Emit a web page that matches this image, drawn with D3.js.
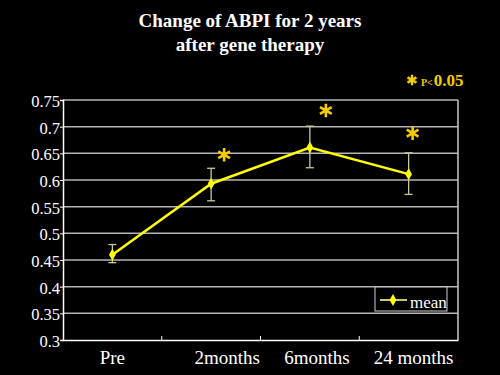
<!DOCTYPE html>
<html><head><meta charset="utf-8">
<script src="https://cdn.jsdelivr.net/npm/d3@7"></script>
<style>html,body{margin:0;padding:0;background:#000;}svg{display:block;}</style>
</head><body>
<script>
const categories = ["Pre", "2months", "6months", "24 months"];
const meanValues = [0.46, 0.593, 0.661, 0.611];
const errLow = [0.445, 0.561, 0.623, 0.573];
const errHigh = [0.479, 0.622, 0.701, 0.651];
const significant = [false, true, true, true];
const yTicks = [0.3, 0.35, 0.4, 0.45, 0.5, 0.55, 0.6, 0.65, 0.7, 0.75];
const titleLines = ["Change of ABPI for 2 years", "after gene therapy"];
const seriesName = "mean";

const W = 500, H = 375;
const m = {left: 63, right: 42, top: 100, bottom: 35};
const svg = d3.select("body").append("svg").attr("width", W).attr("height", H);
svg.append("rect").attr("width", W).attr("height", H).attr("fill", "#000");

const x = d3.scaleBand().domain(categories).range([m.left, W - m.right]);
const y = d3.scaleLinear().domain([0.3, 0.75]).range([H - m.bottom, m.top]);
const serif = "'Liberation Serif','Times New Roman',serif";

// title
svg.selectAll("text.title").data(titleLines).join("text")
  .attr("x", 250).attr("y", (d, i) => 27 + i * 24)
  .attr("text-anchor", "middle").attr("fill", "#fff")
  .attr("font-family", serif).attr("font-weight", "bold").attr("font-size", 19)
  .text(d => d);

// gridlines
svg.append("g").selectAll("line").data(yTicks.slice(1)).join("line")
  .attr("x1", m.left).attr("x2", W - m.right)
  .attr("y1", d => y(d)).attr("y2", d => y(d))
  .attr("stroke", "#b4b4b4").attr("stroke-width", 1.5);

// frame right
svg.append("line").attr("x1", W - m.right).attr("x2", W - m.right)
  .attr("y1", m.top).attr("y2", H - m.bottom).attr("stroke", "#c8c8c8").attr("stroke-width", 1.5);

// y axis
const yAxis = svg.append("g").attr("transform", `translate(${m.left},0)`)
  .call(d3.axisLeft(y).tickValues(yTicks).tickSize(3).tickFormat(d => String(d)));
yAxis.select(".domain").attr("stroke", "#fff").attr("stroke-width", 1.5);
yAxis.selectAll(".tick line").attr("stroke", "#fff");
yAxis.selectAll("text").attr("fill", "#fff").attr("font-family", serif).attr("font-size", 16.5).attr("x", -3).attr("dy", "0.4em");

// x axis
const xAxis = svg.append("g").attr("transform", `translate(0,${H - m.bottom})`)
  .call(d3.axisBottom(x).tickSize(0).tickSizeOuter(0));
xAxis.select(".domain").attr("stroke", "#fff").attr("stroke-width", 1.5);
xAxis.selectAll(".tick text").attr("fill", "#fff").attr("font-family", serif).attr("font-size", 19).attr("dy", "1.1em");
const labelShift = [0, 16, 7, 5];
xAxis.selectAll(".tick text").attr("dx", (d, i) => labelShift[i]);
// band separator ticks
svg.append("g").selectAll("line").data(categories.slice(1)).join("line")
  .attr("x1", d => x(d)).attr("x2", d => x(d))
  .attr("y1", H - m.bottom).attr("y2", H - m.bottom - 4)
  .attr("stroke", "#fff").attr("stroke-width", 1);

const cx = d => x(d) + x.bandwidth() / 2;

// error bars
const eb = svg.append("g").attr("stroke", "#c8c8a0").attr("stroke-width", 1.3);
categories.forEach((c, i) => {
  const xc = cx(c);
  eb.append("line").attr("x1", xc).attr("x2", xc).attr("y1", y(errLow[i])).attr("y2", y(errHigh[i]));
  eb.append("line").attr("x1", xc - 4).attr("x2", xc + 4).attr("y1", y(errLow[i])).attr("y2", y(errLow[i]));
  eb.append("line").attr("x1", xc - 4).attr("x2", xc + 4).attr("y1", y(errHigh[i])).attr("y2", y(errHigh[i]));
});

// line
const data = categories.map((c, i) => ({c, v: meanValues[i]}));
svg.append("path").datum(data)
  .attr("d", d3.line().x(d => cx(d.c)).y(d => y(d.v)))
  .attr("fill", "none").attr("stroke", "#ffff00").attr("stroke-width", 2.5);
svg.append("g").selectAll("path").data(data).join("path")
  .attr("transform", d => `translate(${cx(d.c)},${y(d.v)})`)
  .attr("d", d3.symbol(d3.symbolDiamond, 40)).attr("fill", "#ffff00");

// significance stars
const starDx = [0, 13, 16, 4];
const starDy = [0, -29, -37, -41];
const starColor = "#f5cc00";
svg.append("g").selectAll("path").data(data.filter((d, i) => significant[i]))
  .join("path")
  .attr("transform", d => {
    const i = categories.indexOf(d.c);
    return `translate(${cx(d.c) + starDx[i]},${y(d.v) + starDy[i]})`;
  })
  .attr("d", d3.symbol(d3.symbolAsterisk, 130))
  .attr("fill", "none").attr("stroke", starColor).attr("stroke-width", 2.6);

// p-value note
svg.append("path").attr("transform", "translate(412,80)")
  .attr("d", d3.symbol(d3.symbolAsterisk, 75)).attr("fill", "none")
  .attr("stroke", starColor).attr("stroke-width", 2.4);
const note = svg.append("text").attr("x", 421).attr("y", 86).attr("fill", starColor)
  .attr("font-family", serif).attr("font-weight", "bold");
note.append("tspan").attr("font-size", 10).text("P<");
note.append("tspan").attr("font-size", 17).attr("dx", 1).text("0.05");

// legend
const lg = svg.append("g");
lg.append("rect").attr("x", 375).attr("y", 287).attr("width", 72).attr("height", 24)
  .attr("fill", "#000").attr("stroke", "#d0d0d0").attr("stroke-width", 1);
lg.append("line").attr("x1", 380).attr("x2", 407).attr("y1", 300).attr("y2", 300)
  .attr("stroke", "#c8c86e").attr("stroke-width", 2);
lg.append("path").attr("transform", "translate(393,300)")
  .attr("d", d3.symbol(d3.symbolDiamond, 40)).attr("fill", "#ffff00");
lg.append("text").attr("x", 410).attr("y", 308).attr("fill", "#fff")
  .attr("font-family", serif).attr("font-size", 17).text(seriesName);
</script>
</body></html>
